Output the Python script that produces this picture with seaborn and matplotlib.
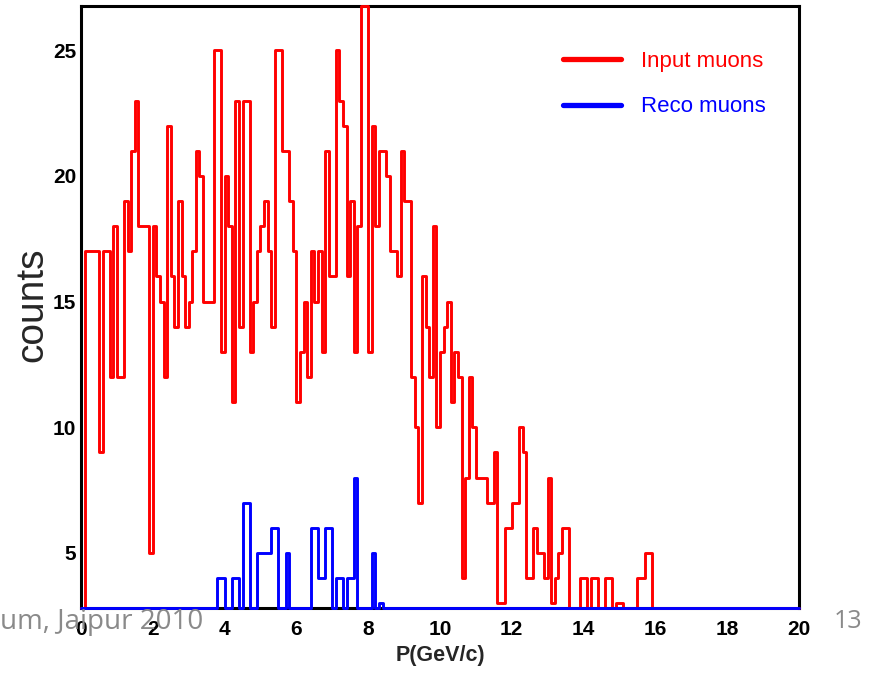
import numpy as np
import pandas as pd
import matplotlib
matplotlib.use("Agg")
import matplotlib.pyplot as plt
from matplotlib.lines import Line2D
import seaborn as sns

# Momentum binning: 200 bins of 0.1 GeV/c between 0 and 20
p_min, p_max, n_bins = 0.0, 20.0, 200

# Counts per bin, generated muons
input_counts = [
    0, 17, 17, 17, 17, 9, 17, 17, 12, 18, 12, 12, 19, 17, 21, 23, 18, 18, 18, 5,
    18, 16, 15, 12, 22, 16, 14, 19, 16, 14, 15, 17, 21, 20, 15, 15, 15, 25, 25, 13,
    20, 18, 11, 23, 14, 23, 23, 13, 15, 17, 18, 19, 17, 14, 25, 25, 21, 21, 19, 17,
    11, 13, 15, 12, 17, 15, 17, 13, 21, 16, 16, 25, 23, 22, 16, 19, 13, 18, 27, 27,
    13, 22, 18, 21, 21, 20, 17, 17, 16, 21, 19, 19, 12, 10, 7, 16, 14, 12, 18, 10,
    13, 14, 15, 11, 13, 12, 4, 8, 12, 10, 8, 8, 8, 7, 7, 9, 3, 3, 6, 6,
    7, 7, 10, 9, 4, 4, 6, 5, 5, 4, 8, 3, 4, 5, 6, 6, 0, 0, 0, 4,
    4, 0, 4, 4, 0, 0, 4, 4, 0, 3, 3, 0, 0, 0, 0, 4, 4, 5, 5, 0,
    0, 0, 0, 0, 0, 0, 0, 0, 0, 0, 0, 0, 0, 0, 0, 0, 0, 0, 0, 0,
    0, 0, 0, 0, 0, 0, 0, 0, 0, 0, 0, 0, 0, 0, 0, 0, 0, 0, 0, 0,
]

# Counts per bin, reconstructed muons
reco_counts = [
    0, 0, 0, 0, 0, 0, 0, 0, 0, 0, 0, 0, 0, 0, 0, 0, 0, 0, 0, 0,
    0, 0, 0, 0, 0, 0, 0, 0, 0, 0, 0, 0, 0, 0, 0, 0, 0, 0, 4, 4,
    0, 0, 4, 4, 0, 7, 7, 0, 0, 5, 5, 5, 5, 6, 6, 0, 0, 5, 0, 0,
    0, 0, 0, 0, 6, 6, 4, 4, 6, 6, 0, 4, 4, 0, 4, 4, 8, 0, 0, 0,
    0, 5, 0, 3, 0, 0, 0, 0, 0, 0, 0, 0, 0, 0, 0, 0, 0, 0, 0, 0,
    0, 0, 0, 0, 0, 0, 0, 0, 0, 0, 0, 0, 0, 0, 0, 0, 0, 0, 0, 0,
    0, 0, 0, 0, 0, 0, 0, 0, 0, 0, 0, 0, 0, 0, 0, 0, 0, 0, 0, 0,
    0, 0, 0, 0, 0, 0, 0, 0, 0, 0, 0, 0, 0, 0, 0, 0, 0, 0, 0, 0,
    0, 0, 0, 0, 0, 0, 0, 0, 0, 0, 0, 0, 0, 0, 0, 0, 0, 0, 0, 0,
    0, 0, 0, 0, 0, 0, 0, 0, 0, 0, 0, 0, 0, 0, 0, 0, 0, 0, 0, 0,
]

series_names = ["Input muons", "Reco muons"]
series_colors = ["#ff0000", "#0000ff"]
x_ticks = [0, 2, 4, 6, 8, 10, 12, 14, 16, 18, 20]
y_ticks = [5, 10, 15, 20, 25]
y_range = (2.83, 26.76)

sns.set_theme(style="white")
plt.rcParams["font.family"] = ["Liberation Sans", "DejaVu Sans"]

edges = np.linspace(p_min, p_max, n_bins + 1)
centers = 0.5 * (edges[:-1] + edges[1:])

W, H = 878, 673
L, R, T, B = 81, 799, 6, 607.5
fig = plt.figure(figsize=(W / 100, H / 100), dpi=100)
fig.patch.set_facecolor("white")
ax = fig.add_axes([L / W, 1 - B / H, (R - L) / W, (B - T) / H])
ax.set_facecolor("white")

# Out-of-range bins sit on the frame edge, as in a ROOT histogram
for counts, name, color in zip([input_counts, reco_counts], series_names, series_colors):
    shown = np.clip(np.asarray(counts, dtype=float), *y_range)
    table = pd.DataFrame({"p": centers, "w": shown})
    sns.histplot(data=table, x="p", weights="w", bins=n_bins, binrange=(p_min, p_max),
                 element="step", fill=False, color=color, linewidth=2.1, ax=ax,
                 clip_on=False, zorder=3, label=name)

ax.set_xlim(p_min, p_max)
ax.set_ylim(*y_range)

ax.set_xticks(x_ticks)
ax.set_xticks(np.arange(p_min, p_max + 0.01, 0.5), minor=True)
ax.set_yticks(y_ticks)
ax.set_yticks(np.arange(3, 27), minor=True)
ax.tick_params(which="both", direction="in", top=False, right=False,
               color="black", labelcolor="black")
ax.tick_params(which="major", width=1.2, labelsize=15)
ax.tick_params(which="minor", width=1.0)
ax.tick_params(axis="x", which="major", length=9.5, pad=9)
ax.tick_params(axis="x", which="minor", length=5)
ax.tick_params(axis="y", which="major", length=14.5, pad=3.5)
ax.tick_params(axis="y", which="minor", length=7.2)
for lab in ax.get_xticklabels() + ax.get_yticklabels():
    lab.set_fontweight("bold")

for side in ["left", "right", "top", "bottom"]:
    ax.spines[side].set_visible(True)
    ax.spines[side].set_color("black")
    ax.spines[side].set_linewidth(2.2)

ax.set_xlabel("P(GeV/c)", fontsize=15.5, fontweight="bold", va="center")
ax.xaxis.set_label_coords((440 - L) / (R - L), (B - 656) / (B - T))
ax.set_ylabel("counts", fontsize=28, va="center")
ax.yaxis.set_label_coords((32 - L) / (R - L), (B - 305) / (B - T))

handles = [Line2D([], [], color=c, lw=3.8) for c in series_colors]
ax.legend(handles, series_names, loc="upper left",
          bbox_to_anchor=(563 / W, 1 - 51 / H), bbox_transform=fig.transFigure,
          frameon=False, fontsize=16, handlelength=2.6, handletextpad=0.9,
          labelspacing=1.1, borderpad=0, borderaxespad=0, labelcolor=series_colors)

# Slide footer
fig.text(0, 1 - 622 / H, "um, Jaipur 2010", color="#8a8a8a", fontsize=20,
         family=["Open Sans", "DejaVu Sans"], ha="left", va="center")
fig.text(834 / W, 1 - 622 / H, "13", color="#8a8a8a", fontsize=18,
         family=["Open Sans", "DejaVu Sans"], ha="left", va="center")

fig.savefig("out.png", dpi=100, facecolor="white")
